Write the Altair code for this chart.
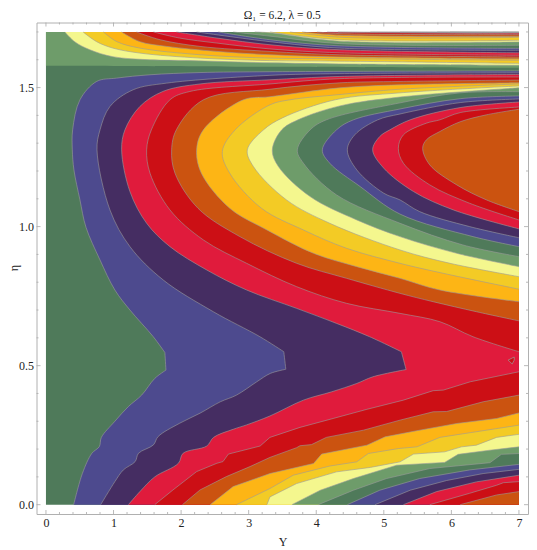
import altair as alt
import pandas as pd

DKGREEN, BLUE, PURPLE, RED, DKRED = "#4F7A5A", "#4D4A8E", "#452D62", "#E01B3C", "#CC0F15"
ORANGE, AMBER, GOLD, PALE, SAGE = "#CB5310", "#FDB515", "#F3CB25", "#F4F78E", "#6E9C6A"
LINE = "#9c9c9c"
SERIF = "Liberation Serif"
SMOOTH = "catmull-rom"
ANGULAR = "linear"

# contour boundaries of the lower / right family: (eta, Y); higher level lies to the right
L1 = [(0,.41),(.113,.54),(.185,.68),(.209,.79),(.242,.82),(.30,1.02),(.353,1.22),(.394,1.416),(.454,1.61),(.484,1.776),(.484,1.776),(.547,1.76),(.547,1.76),(.604,1.588),(.70,1.243),(.772,1.02),(.88,.8),(.998,.592),(1.096,.503),(1.204,.414),(1.276,.39),(1.348,.395),(1.456,.503),(1.522,.75),(1.534,1.046),(1.546,1.54),(1.554,2.28),(1.557,3.315),(1.56,7)]
L2 = [(0,.81),(.083,1.02),(.125,1.145),(.155,1.32),(.185,1.37),(.215,1.59),(.245,1.66),(.293,1.98),(.329,2.28),(.37,2.58),(.394,2.82),(.442,3.12),(.472,3.32),(.487,3.55),(.487,3.55),(.55,3.52),(.55,3.52),(.604,3.167),(.694,2.476),(.808,1.736),(.928,1.243),(1.06,.947),(1.276,.755),(1.348,.80),(1.432,.947),(1.492,1.29),(1.516,1.786),(1.544,3.315),(1.55,4.35),(1.553,7)]
L3 = [(0,1.22),(.047,1.39),(.10,1.61),(.149,1.96),(.185,2.03),(.211,2.38),(.242,2.48),(.271,2.77),(.287,2.97),(.319,3.315),(.376,3.81),(.406,4.23),(.436,4.6),(.46,4.84),(.486,5.33),(.486,5.33),(.55,5.26),(.55,5.26),(.604,4.79),(.652,4.30),(.706,3.71),(.772,2.97),(.844,2.38),(.928,1.835),(1.012,1.49),(1.126,1.243),(1.276,1.12),(1.348,1.169),(1.432,1.39),(1.486,1.73),(1.513,2.28),(1.528,3.315),(1.54,4.35),(1.547,7)]
L4_LOW = [(0,1.61),(.053,1.88),(.119,2.23),(.149,2.53),(.155,2.62),(.182,2.70),(.211,3.17),(.242,3.315),(.278,3.76),(.31,4.25),(.343,4.75),(.376,5.29),(.41,5.73),(.412,5.88),(.442,6.28),(.478,7)]
L5_LOW = [(0,2.02),(.053,2.28),(.101,2.67),(.137,3.02),(.17,3.315),(.205,3.71),(.212,3.76),(.216,3.93),(.242,4.15),(.268,4.7),(.304,5.24),(.334,5.73),(.335,5.93),(.37,6.47),(.394,7)]
L6_LOW = [(0,2.43),(.065,2.77),(.112,3.315),(.148,3.96),(.182,4.08),(.214,4.75),(.244,5.02),(.266,5.49),(.292,6.08),(.31,6.67),(.33,7)]
L7_LOW = [(0,2.82),(.058,3.315),(.106,3.66),(.139,4.2),(.142,4.28),(.154,4.6),(.184,4.77),(.202,5.22),(.208,5.49),(.242,5.83),(.259,6.28),(.286,7)]
L8_LOW = [(0,3.27),(.028,3.315),(.076,3.71),(.118,4.3),(.134,4.8),(.154,5.24),(.182,5.44),(.19,5.9),(.208,6.15),(.214,6.37),(.242,6.67),(.253,7)]
L9_LOW = [(0,3.64),(.052,4.06),(.094,4.55),(.142,5.19),(.152,5.9),(.181,6.1),(.196,6.57),(.208,7)]
L10_LOW = [(0,4.03),(.052,4.55),(.094,5.04),(.13,5.68),(.151,6.57),(.181,6.74),(.184,7)]
L11_LOW = [(0,4.46),(.052,4.94),(.094,5.53),(.125,6.27),(.145,7)]
L12_LOW = [(0,4.87),(.052,5.39),(.087,5.93),(.112,6.47),(.127,7)]
L13_LOW = [(0,5.29),(.047,5.78),(.082,6.37),(.106,7)]
L14_LOW = [(0,5.68),(.041,6.27),(.07,6.67),(.079,6.77),(.083,7)]
L15_LOW = [(0,6.13),(.035,6.67),(.047,7)]
L4_UP = [(.55,7),(.604,6.32),(.658,5.83),(.688,5.24),(.724,4.45),(.784,3.71),(.868,2.97),(.952,2.33),(1.06,1.835),(1.192,1.54),(1.276,1.49),(1.348,1.56),(1.456,1.835),(1.486,2.13),(1.513,3.315),(1.532,4.35),(1.538,7)]
L5_UP = [(.661,7),(.694,6.37),(.73,5.73),(.76,5.24),(.814,4.45),(.868,3.71),(.964,2.87),(1.066,2.25),(1.192,1.91),(1.276,1.86),(1.348,1.93),(1.456,2.33),(1.494,3.315),(1.517,4.35),(1.522,5.24),(1.527,7)]
L6_UP = [(.73,7),(.772,5.83),(.814,5.24),(.856,4.6),(.904,3.96),(.988,3.27),(1.066,2.72),(1.192,2.30),(1.276,2.23),(1.348,2.33),(1.456,2.92),(1.467,3.315),(1.499,4.35),(1.51,5.24),(1.517,7)]
L7_UP = [(.775,7),(.832,5.88),(.868,5.24),(.922,4.45),(.988,3.81),(1.066,3.19),(1.192,2.72),(1.27,2.61),(1.348,2.80),(1.438,3.315),(1.456,3.61),(1.475,4.35),(1.494,5.24),(1.513,7)]
L8_UP = [(.82,7),(.868,5.98),(.916,5.24),(1.012,4.2),(1.096,3.56),(1.216,3.07),(1.276,2.98),(1.348,3.22),(1.391,3.5),(1.456,4.28),(1.481,5.24),(1.506,7)]
L9_UP = [(.856,7),(.904,6.08),(.964,5.24),(1.024,4.6),(1.108,3.91),(1.216,3.44),(1.276,3.35),(1.348,3.49),(1.384,3.73),(1.434,4.35),(1.466,5.24),(1.499,7)]
L10_UP = [(.892,7),(.934,6.17),(1.012,5.24),(1.114,4.3),(1.228,3.81),(1.276,3.72),(1.348,3.91),(1.384,4.15),(1.445,5.24),(1.481,6.13),(1.485,7)]
L11_UP = [(.928,7),(.964,6.32),(1.045,5.24),(1.144,4.65),(1.228,4.2),(1.276,4.09),(1.348,4.3),(1.384,4.55),(1.423,5.24),(1.46,6.13),(1.47,7)]
L12_UP = [(.96,7),(1.0,6.27),(1.054,5.53),(1.096,5.24),(1.12,5.0),(1.204,4.6),(1.276,4.46),(1.33,4.57),(1.384,4.91),(1.405,5.24),(1.446,6.13),(1.459,7)]
L13_UP = [(.992,7),(1.06,6.03),(1.126,5.44),(1.21,5.0),(1.276,4.835),(1.324,4.94),(1.348,5.09),(1.384,5.39),(1.428,6.13),(1.448,7)]
L14_UP = [(1.024,7),(1.084,6.27),(1.15,5.68),(1.228,5.29),(1.282,5.215),(1.33,5.29),(1.372,5.63),(1.384,5.83),(1.41,6.13),(1.43,7)]
L15_UP = [(1.054,7),(1.096,6.52),(1.15,6.08),(1.222,5.68),(1.282,5.575),(1.312,5.63),(1.342,5.83),(1.377,6.13),(1.402,6.52),(1.422,7)]

MAIN = [(L1,BLUE,SMOOTH),(L2,PURPLE,SMOOTH),(L3,RED,SMOOTH),(L4_LOW,DKRED,ANGULAR),(L4_UP,DKRED,SMOOTH),
        (L5_LOW,ORANGE,ANGULAR),(L5_UP,ORANGE,SMOOTH),(L6_LOW,AMBER,ANGULAR),(L6_UP,AMBER,SMOOTH),
        (L7_LOW,GOLD,ANGULAR),(L7_UP,GOLD,SMOOTH),(L8_LOW,PALE,ANGULAR),(L8_UP,PALE,SMOOTH),
        (L9_LOW,SAGE,ANGULAR),(L9_UP,SAGE,SMOOTH),(L10_LOW,DKGREEN,ANGULAR),(L10_UP,DKGREEN,SMOOTH),
        (L11_LOW,BLUE,ANGULAR),(L11_UP,BLUE,SMOOTH),(L12_LOW,PURPLE,ANGULAR),(L12_UP,PURPLE,SMOOTH),
        (L13_LOW,RED,ANGULAR),(L13_UP,RED,SMOOTH),(L14_LOW,DKRED,ANGULAR),(L14_UP,DKRED,SMOOTH),
        (L15_LOW,ORANGE,ANGULAR),(L15_UP,ORANGE,SMOOTH)]

# top family: (Y, eta); the band lies above the curve
T0 = [(0,1.578),(1.0,1.578),(3.315,1.575),(7,1.571)]
T1 = [(.28,1.7),(.43,1.664),(.65,1.636),(.99,1.611),(1.54,1.6),(2.13,1.597),(3.315,1.589),(4.35,1.585),(7,1.58)]
T2 = [(.55,1.7),(.75,1.665),(.99,1.642),(1.39,1.624),(2.28,1.606),(3.315,1.597),(4.35,1.595),(7,1.587)]
T3 = [(.85,1.7),(1.05,1.665),(1.39,1.642),(2.28,1.618),(3.315,1.606),(4.35,1.604),(7,1.598)]
T4 = [(1.12,1.7),(1.39,1.665),(1.79,1.648),(2.53,1.63),(3.315,1.618),(4.35,1.61),(7,1.603)]
T5 = [(1.34,1.7),(1.69,1.672),(2.28,1.648),(3.315,1.63),(4.35,1.618),(7,1.61)]
T6 = [(1.59,1.7),(1.98,1.678),(2.53,1.66),(3.315,1.639),(4.35,1.625),(7,1.616)]
T7 = [(1.93,1.7),(2.53,1.678),(3.315,1.654),(4.35,1.636),(7,1.625)]
T8 = [(2.23,1.7),(3.315,1.665),(4.35,1.642),(7,1.634)]
T9 = [(2.55,1.7),(3.315,1.672),(4.35,1.65),(7,1.641)]
T10 = [(2.77,1.7),(3.315,1.685),(4.35,1.658),(7,1.652)]
T11 = [(3.09,1.7),(3.315,1.697),(4.35,1.667),(7,1.664)]
T12 = [(3.315,1.7),(4.35,1.672),(7,1.67)]
T13 = [(3.61,1.7),(4.35,1.681),(7,1.681)]
T14 = [(3.79,1.7),(4.35,1.688),(7,1.684)]
T15 = [(4.01,1.7),(4.35,1.694),(7,1.69)]
T16 = [(4.16,1.7),(4.35,1.699),(7,1.693)]
T17 = [(4.32,1.7),(7,1.697)]
T18 = [(4.80,1.7),(7,1.698)]
T19 = [(5.24,1.7),(7,1.6985)]
T20 = [(5.79,1.7),(7,1.699)]
T21 = [(5.98,1.7),(7,1.6995)]
T22 = [(6.76,1.7),(7,1.6997)]
TOP = [(T0,SAGE),(T1,PALE),(T2,GOLD),(T3,AMBER),(T4,ORANGE),(T5,DKRED),(T6,RED),(T7,PURPLE),(T8,BLUE),(T9,DKGREEN),
       (T10,SAGE),(T11,PALE),(T12,GOLD),(T13,AMBER),(T14,ORANGE),(T15,DKRED),(T16,RED),(T17,PURPLE),(T18,BLUE),
       (T19,DKGREEN),(T20,SAGE),(T21,PALE),(T22,GOLD)]

# small dark-red island near the right edge
ISLE_ETA = [.506,.52,.531]
ISLE_LEFT = [6.9,6.84,6.93]
ISLE_RIGHT = [6.9,6.93,6.93]
ISLE_LOOP = [(.506,6.9),(.52,6.84),(.531,6.93),(.52,6.93),(.506,6.9)]

X_MAJOR = [0,1,2,3,4,5,6,7]
X_MINOR = [i/5 for i in range(36) if i % 5]
Y_MAJOR = [0.0,0.5,1.0,1.5]
Y_MINOR = [i/10 for i in range(18) if i % 5]

XDOM = [-0.14, 7.134]
YDOM = [-0.0335, 1.734]
W = H = 491.5

xs = alt.Scale(domain=XDOM, nice=False, zero=False)
ys = alt.Scale(domain=YDOM, nice=False, zero=False)
xaxis = alt.Axis(values=X_MAJOR, format="d", tickSize=0, domain=False, grid=False, labelFont=SERIF, labelFontSize=12,
                 labelColor="#222", labelPadding=3, title="Y", titleFont=SERIF, titleFontSize=12, titleFontWeight="normal",
                 titleColor="#222", titleY=27, titleX=246, titleBaseline="middle")
yaxis = alt.Axis(values=Y_MAJOR, format=".1f", tickSize=0, domain=False, grid=False, labelFont=SERIF, labelFontSize=12,
                 labelColor="#222", labelPadding=3, title="η", titleFont=SERIF, titleFontSize=12, titleFontWeight="normal",
                 titleColor="#222", titleX=-23, titleY=245, titleBaseline="middle")

layers = []
# base rectangle
base = pd.DataFrame({"Y": [0, 7], "eta": [1.7, 1.7], "y0": [0, 0]})
layers.append(alt.Chart(base).mark_area(color=DKGREEN, orient="vertical").encode(
    x=alt.X("Y:Q", scale=xs, axis=xaxis),
    y=alt.Y("eta:Q", scale=ys, axis=yaxis),
    y2="y0:Q"))

def horiz(curve, color, interp):
    df = pd.DataFrame({"eta": [p[0] for p in curve], "Y": [p[1] for p in curve], "Yr": [7] * len(curve)})
    return alt.Chart(df).mark_area(color=color, orient="horizontal", interpolate=interp).encode(
        x=alt.X("Y:Q", scale=xs), x2="Yr:Q", y=alt.Y("eta:Q", scale=ys))

def vert(curve, color):
    df = pd.DataFrame({"Y": [p[0] for p in curve], "eta": [p[1] for p in curve], "top": [1.7] * len(curve)})
    return alt.Chart(df).mark_area(color=color, orient="vertical", interpolate=SMOOTH).encode(
        x=alt.X("Y:Q", scale=xs), y=alt.Y("eta:Q", scale=ys), y2="top:Q")

for c, col, interp in MAIN:
    layers.append(horiz(c, col, interp))
for c, col in TOP:
    layers.append(vert(c, col))

isle = pd.DataFrame({"eta": ISLE_ETA, "Y": ISLE_LEFT, "Yr": ISLE_RIGHT})
layers.append(alt.Chart(isle).mark_area(color=DKRED, orient="horizontal").encode(
    x=alt.X("Y:Q", scale=xs), x2="Yr:Q", y=alt.Y("eta:Q", scale=ys)))

smooth_rows, angular_rows = [], []
for k, (c, _, interp) in enumerate(MAIN):
    target = smooth_rows if interp == SMOOTH else angular_rows
    target += [{"curve": f"m{k}", "i": i, "eta": p[0], "Y": p[1]} for i, p in enumerate(c)]
for k, (c, _) in enumerate(TOP):
    if k == 0:
        continue
    smooth_rows += [{"curve": f"t{k}", "i": i, "Y": p[0], "eta": p[1]} for i, p in enumerate(c)]
for rows, interp in ((smooth_rows, SMOOTH), (angular_rows, ANGULAR)):
    layers.append(alt.Chart(pd.DataFrame(rows)).mark_line(color=LINE, strokeWidth=0.7, opacity=0.85, interpolate=interp).encode(
        x=alt.X("Y:Q", scale=xs), y=alt.Y("eta:Q", scale=ys), detail="curve:N", order="i:Q"))
loop = pd.DataFrame({"i": range(len(ISLE_LOOP)), "eta": [p[0] for p in ISLE_LOOP], "Y": [p[1] for p in ISLE_LOOP]})
layers.append(alt.Chart(loop).mark_line(color=LINE, strokeWidth=0.7).encode(
    x=alt.X("Y:Q", scale=xs), y=alt.Y("eta:Q", scale=ys), order="i:Q"))

# inward frame ticks
def xticks(vals, ln):
    d = pd.DataFrame({"Y": vals})
    out = []
    for a, b in ((0, ln), (H, H - ln)):
        out.append(alt.Chart(d).mark_rule(color="#a8a8a8", strokeWidth=0.8).encode(
            x=alt.X("Y:Q", scale=xs), y=alt.value(a), y2=alt.value(b)))
    return out

def yticks(vals, ln):
    d = pd.DataFrame({"eta": vals})
    out = []
    for a, b in ((0, ln), (W, W - ln)):
        out.append(alt.Chart(d).mark_rule(color="#a8a8a8", strokeWidth=0.8).encode(
            y=alt.Y("eta:Q", scale=ys), x=alt.value(a), x2=alt.value(b)))
    return out

layers += xticks(X_MAJOR, 4) + xticks(X_MINOR, 2) + yticks(Y_MAJOR, 4) + yticks(Y_MINOR, 2)

chart = alt.layer(*layers).properties(
    width=W, height=H,
    title=alt.TitleParams("Ω₁ = 6.2, λ = 0.5", font=SERIF, fontSize=11.5, fontWeight="normal", color="#222",
                          anchor="middle", offset=0, dy=-1),
    autosize=alt.AutoSizeParams(type="none"),
    padding={"left": 28.5, "top": 14.5, "right": 1, "bottom": 36},
    background="white",
).configure_view(stroke="#b0b0b0", strokeWidth=1)

chart.save("out.html", embed_options={"renderer": "svg", "actions": False})
